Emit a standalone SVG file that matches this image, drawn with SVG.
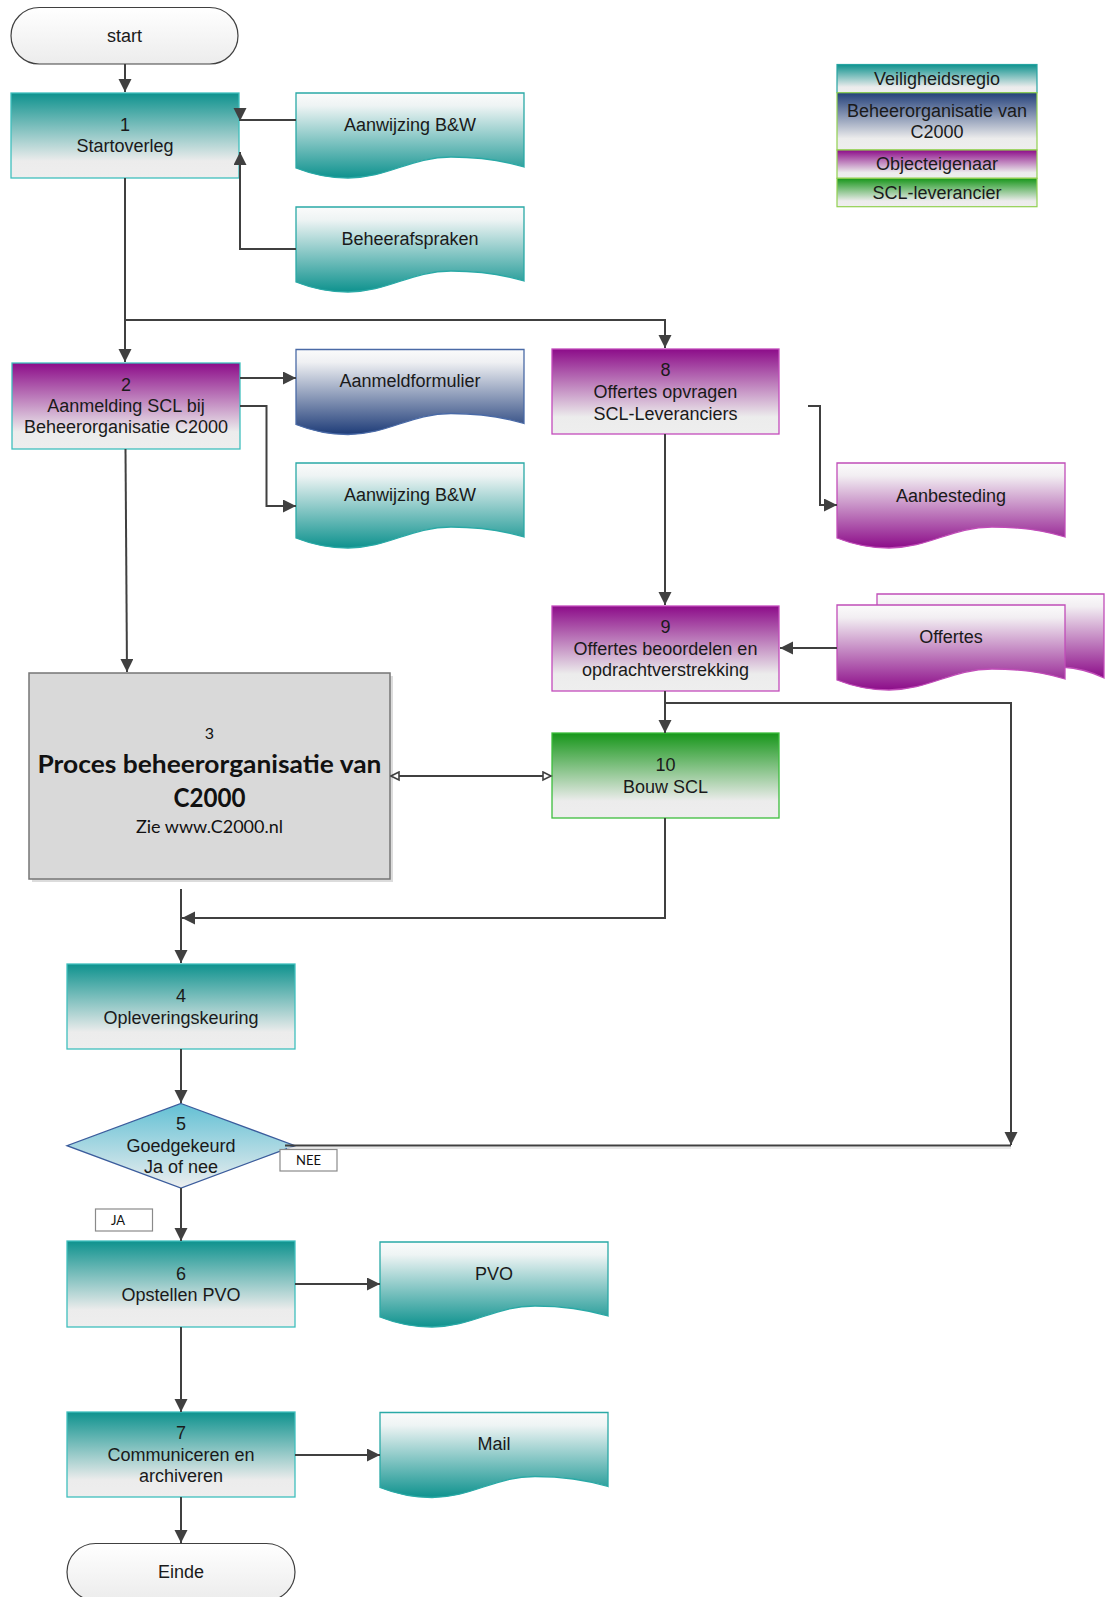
<svg xmlns="http://www.w3.org/2000/svg" xmlns:xlink="http://www.w3.org/1999/xlink" width="1105" height="1597" viewBox="0 0 1105 1597">
<style>
.t{font-family:"Liberation Sans",Arial,sans-serif;font-size:18px;fill:#1a1a1a;text-anchor:middle;dominant-baseline:central}
.c{font-family:Lato,"Open Sans",sans-serif;fill:#111;text-anchor:middle}
.conn{fill:none;stroke:#404040;stroke-width:2}
.tealbox{fill:url(#gTeal);stroke:#3fbfbd;stroke-width:1.3}
.purpbox{fill:url(#gPurp);stroke:#c34cbc;stroke-width:1.3}
.greenbox{fill:url(#gGreen);stroke:#3dbd3d;stroke-width:1.3}
.tealdoc{fill:url(#gTealDoc);stroke:#2aa9a6;stroke-width:1.3}
.purpdoc{fill:url(#gPurpDoc);stroke:#c04db8;stroke-width:1.3}
.navydoc{fill:url(#gNavyDoc);stroke:#4a6aa6;stroke-width:1.3}
.term{fill:url(#gTerm);stroke:#404040;stroke-width:1.2}
.lbl{fill:#fff;stroke:#8a8a8a;stroke-width:1.2}
</style>
<defs>
<linearGradient id="gTeal" x1="0" y1="0" x2="0" y2="1"><stop offset="0" stop-color="#0e928e"/><stop offset="0.8" stop-color="#ececec"/><stop offset="1" stop-color="#eeeeee"/></linearGradient>
<linearGradient id="gPurp" x1="0" y1="0" x2="0" y2="1"><stop offset="0" stop-color="#8c0c89"/><stop offset="0.8" stop-color="#ececec"/><stop offset="1" stop-color="#eeeeee"/></linearGradient>
<linearGradient id="gGreen" x1="0" y1="0" x2="0" y2="1"><stop offset="0" stop-color="#17961a"/><stop offset="0.8" stop-color="#ececec"/><stop offset="1" stop-color="#eeeeee"/></linearGradient>
<linearGradient id="gNavy" x1="0" y1="0" x2="0" y2="1"><stop offset="0" stop-color="#23407a"/><stop offset="0.8" stop-color="#ececec"/><stop offset="1" stop-color="#eeeeee"/></linearGradient>
<linearGradient id="gTealDoc" x1="0" y1="0" x2="0" y2="1"><stop offset="0" stop-color="#fbfbfb"/><stop offset="0.15" stop-color="#eef4f4"/><stop offset="1" stop-color="#0e928e"/></linearGradient>
<linearGradient id="gPurpDoc" x1="0" y1="0" x2="0" y2="1"><stop offset="0" stop-color="#fbfbfb"/><stop offset="0.15" stop-color="#f2eef2"/><stop offset="1" stop-color="#8c0c89"/></linearGradient>
<linearGradient id="gNavyDoc" x1="0" y1="0" x2="0" y2="1"><stop offset="0" stop-color="#fbfbfb"/><stop offset="0.15" stop-color="#eff0f3"/><stop offset="1" stop-color="#1e3c78"/></linearGradient>
<linearGradient id="gTerm" x1="0" y1="0" x2="0" y2="1"><stop offset="0" stop-color="#ffffff"/><stop offset="1" stop-color="#ececec"/></linearGradient>
<linearGradient id="gDia" x1="0" y1="0" x2="0" y2="1"><stop offset="0" stop-color="#62c0d4"/><stop offset="1" stop-color="#eceeef"/></linearGradient>
<path id="doc" d="M0,0 H228 V74 C205,67 180,64 155,64 C115,64 92,85 52,85 C30,85 15,81 0,75 Z"/>
<marker id="arr" markerUnits="userSpaceOnUse" markerWidth="14" markerHeight="14" refX="13" refY="6.5" orient="auto"><path d="M0,0 L13,6.5 L0,13 Z" fill="#404040"/></marker>
<marker id="oarrE" markerUnits="userSpaceOnUse" markerWidth="12" markerHeight="12" refX="9" refY="5" orient="auto"><path d="M1,1 L9,5 L1,9 Z" fill="#fff" stroke="#404040" stroke-width="1.6"/></marker>
<marker id="oarrS" markerUnits="userSpaceOnUse" markerWidth="12" markerHeight="12" refX="1" refY="5" orient="auto"><path d="M9,1 L1,5 L9,9 Z" fill="#fff" stroke="#404040" stroke-width="1.6"/></marker>
</defs>
<rect width="1105" height="1597" fill="#fff"/>

<g id="start">
<rect class="term" x="11" y="7.5" width="227" height="56.5" rx="28.25"/>
<text class="t" x="124.5" y="36">start</text>
</g>

<g id="n1">
<rect class="tealbox" x="11" y="93" width="228" height="85"/>
<text class="t" x="125" y="125">1</text>
<text class="t" x="125" y="146">Startoverleg</text>
</g>

<g id="doc-aanwijzing1">
<use href="#doc" class="tealdoc" x="296" y="93"/>
<text class="t" x="410" y="125">Aanwijzing B&amp;W</text>
</g>

<g id="doc-beheerafspraken">
<use href="#doc" class="tealdoc" x="296" y="207"/>
<text class="t" x="410" y="238.5">Beheerafspraken</text>
</g>

<g id="legend">
<rect x="837" y="64.5" width="200" height="28.2" fill="url(#gTeal)" stroke="#27a4a2" stroke-width="1.2"/>
<rect x="837" y="92.7" width="200" height="57.3" fill="url(#gNavy)" stroke="#92d050" stroke-width="1.2"/>
<rect x="837" y="150" width="200" height="28.3" fill="url(#gPurp)" stroke="#92d050" stroke-width="1.2"/>
<rect x="837" y="178.3" width="200" height="28.4" fill="url(#gGreen)" stroke="#92d050" stroke-width="1.2"/>
<text class="t" x="937" y="79">Veiligheidsregio</text>
<text class="t" x="937" y="110.7">Beheerorganisatie van</text>
<text class="t" x="937" y="131.7">C2000</text>
<text class="t" x="937" y="164">Objecteigenaar</text>
<text class="t" x="937" y="192.7">SCL-leverancier</text>
</g>

<g id="n2">
<rect class="purpbox" x="12" y="363" width="228" height="86" style="stroke:#3fbfbd"/>
<text class="t" x="126" y="384.5">2</text>
<text class="t" x="126" y="406">Aanmelding SCL bij</text>
<text class="t" x="126" y="427">Beheerorganisatie C2000</text>
</g>

<g id="doc-aanmeldformulier">
<use href="#doc" class="navydoc" x="296" y="349.5"/>
<text class="t" x="410" y="381">Aanmeldformulier</text>
</g>

<g id="doc-aanwijzing2">
<use href="#doc" class="tealdoc" x="296" y="463"/>
<text class="t" x="410" y="495">Aanwijzing B&amp;W</text>
</g>

<g id="n8">
<rect class="purpbox" x="552" y="349" width="227" height="85"/>
<text class="t" x="665.5" y="370">8</text>
<text class="t" x="665.5" y="392">Offertes opvragen</text>
<text class="t" x="665.5" y="413.5">SCL-Leveranciers</text>
</g>

<g id="doc-aanbesteding">
<use href="#doc" class="purpdoc" x="837" y="463"/>
<text class="t" x="951" y="495.5">Aanbesteding</text>
</g>

<g id="n9">
<rect class="purpbox" x="552" y="606" width="227" height="85"/>
<text class="t" x="665.5" y="626.5">9</text>
<text class="t" x="665.5" y="648.5">Offertes beoordelen en</text>
<text class="t" x="665.5" y="670">opdrachtverstrekking</text>
</g>

<g id="doc-offertes">
<path class="purpdoc" d="M877,594 H1104 V678 C1092,672 1078,668 1062,667 L877,667 Z"/>
<use href="#doc" class="purpdoc" x="837" y="605"/>
<text class="t" x="951" y="637">Offertes</text>
</g>

<g id="n3">
<rect x="32" y="676" width="361" height="206" fill="#c4c4c4" opacity="0.6"/>
<rect x="29" y="673" width="361" height="206" fill="#d9d9d9" stroke="#767676" stroke-width="1.5"/>
<text class="c" x="209.5" y="739" font-size="16">3</text>
<text class="c" x="209.5" y="773" font-size="24" font-weight="bold" textLength="344" lengthAdjust="spacingAndGlyphs">Proces beheerorganisatie van</text>
<text class="c" x="209.5" y="806.5" font-size="26" font-weight="bold" textLength="72" lengthAdjust="spacingAndGlyphs">C2000</text>
<text class="c" x="209.5" y="833" font-size="18" textLength="147" lengthAdjust="spacingAndGlyphs">Zie www.C2000.nl</text>
</g>

<g id="n10">
<rect class="greenbox" x="552" y="733" width="227" height="85"/>
<text class="t" x="665.5" y="765">10</text>
<text class="t" x="665.5" y="786.5">Bouw SCL</text>
</g>

<g id="n4">
<rect class="tealbox" x="67" y="964" width="228" height="85"/>
<text class="t" x="181" y="996">4</text>
<text class="t" x="181" y="1017.5">Opleveringskeuring</text>
</g>

<g id="n5">
<polygon points="181,1103.5 295,1145.7 181,1188 67,1145.7" fill="url(#gDia)" stroke="#3b5c9c" stroke-width="1.3"/>
<text class="t" x="181" y="1124">5</text>
<text class="t" x="181" y="1145.5">Goedgekeurd</text>
<text class="t" x="181" y="1167">Ja of nee</text>
</g>

<g id="n6">
<rect class="tealbox" x="67" y="1241" width="228" height="86"/>
<text class="t" x="181" y="1273.5">6</text>
<text class="t" x="181" y="1295">Opstellen PVO</text>
</g>

<g id="doc-pvo">
<use href="#doc" class="tealdoc" x="380" y="1242"/>
<text class="t" x="494" y="1273.5">PVO</text>
</g>

<g id="n7">
<rect class="tealbox" x="67" y="1412" width="228" height="85"/>
<text class="t" x="181" y="1433">7</text>
<text class="t" x="181" y="1455">Communiceren en</text>
<text class="t" x="181" y="1476">archiveren</text>
</g>

<g id="doc-mail">
<use href="#doc" class="tealdoc" x="380" y="1412.5"/>
<text class="t" x="494" y="1444">Mail</text>
</g>

<g id="einde">
<rect class="term" x="67" y="1543.5" width="228" height="57" rx="28.5"/>
<text class="t" x="181" y="1572">Einde</text>
</g>

<g id="connectors">
<path class="conn" d="M125,64 V92" marker-end="url(#arr)"/>
<path class="conn" d="M296,120 H240 M240,110 V121" marker-end="url(#arr)"/>
<path class="conn" d="M296,249 H240 V152" marker-end="url(#arr)"/>
<path class="conn" d="M125,178 V362" marker-end="url(#arr)"/>
<path class="conn" d="M125,320 H665 V348" marker-end="url(#arr)"/>
<path class="conn" d="M240,378 H296" marker-end="url(#arr)"/>
<path class="conn" d="M240,406 H266.5 V506 H296" marker-end="url(#arr)"/>
<path class="conn" d="M125.5,449 L127,672" marker-end="url(#arr)"/>
<path class="conn" d="M665,434 V605" marker-end="url(#arr)"/>
<path class="conn" d="M808,406 H820 V505 H837" marker-end="url(#arr)"/>
<path class="conn" d="M837,648 H780" marker-end="url(#arr)"/>
<path class="conn" d="M665,691 V733" marker-end="url(#arr)"/>
<path class="conn" d="M665,703 H1011 V1145" marker-end="url(#arr)"/>
<path class="conn" d="M391,776 H551" marker-start="url(#oarrS)" marker-end="url(#oarrE)"/>
<path class="conn" d="M665,818 V918 H182" marker-end="url(#arr)"/>
<path class="conn" d="M181,889 V963" marker-end="url(#arr)"/>
<path class="conn" d="M181,1049 V1103" marker-end="url(#arr)"/>
<path d="M287,1148 H1011" fill="none" stroke="#e2e2e2" stroke-width="1.5"/>
<path class="conn" d="M285,1145.5 H1011" stroke-width="1.6"/>
<path class="conn" d="M181,1188 V1241" marker-end="url(#arr)"/>
<path class="conn" d="M295,1284 H380" marker-end="url(#arr)"/>
<path class="conn" d="M181,1327 V1412" marker-end="url(#arr)"/>
<path class="conn" d="M295,1455 H380" marker-end="url(#arr)"/>
<path class="conn" d="M181,1497 V1543" marker-end="url(#arr)"/>
</g>

<g id="label-nee">
<rect class="lbl" x="280" y="1149.5" width="57" height="21.5"/>
<text class="c" x="308.5" y="1164.5" font-size="13">NEE</text>
</g>

<g id="label-ja">
<rect class="lbl" x="95.5" y="1209" width="57" height="22"/>
<text class="c" x="118" y="1224.5" font-size="13">JA</text>
</g>
</svg>
